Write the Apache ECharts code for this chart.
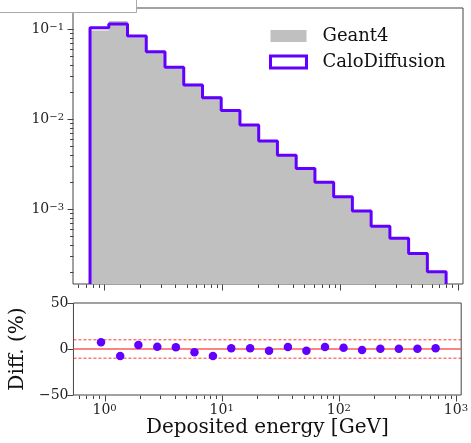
<!DOCTYPE html>
<html><head><meta charset="utf-8">
<script src="https://cdn.jsdelivr.net/npm/echarts@6/dist/echarts.min.js"></script>
<style>html,body{margin:0;padding:0;background:#fff}#c{width:471px;height:443px}</style>
</head><body><div id="c"></div>
<script>
// ---- data ----
const binEdges = [0.756,1.091,1.573,2.270,3.273,4.722,6.811,9.824,14.17,20.44,29.48,42.53,61.35,88.50,127.6,184.1,265.6,383.1,552.6,797.2];
const caloDiffusion = [0.104,0.1146,0.0843,0.0564,0.0379,0.0240,0.0174,0.0125,0.00863,0.00574,0.00398,0.00285,0.00200,0.00138,0.00096,0.00065,0.000476,0.000324,0.000203];
const geant4 = [0.0970,0.1236,0.0812,0.0551,0.0372,0.0248,0.0180,0.0124,0.00860,0.00585,0.00392,0.00280,0.00196,0.00136,0.00097,0.00066,0.000475,0.000323,0.000202];
const diffX = [0.932,1.359,1.944,2.818,4.061,5.853,8.420,12.06,17.49,25.36,36.76,52.88,76.21,109.8,158.0,226.3,325.6,469.4,671.0];
const diffPct = [7.3,-7.6,4.4,2.5,1.9,-3.6,-7.6,0.8,0.8,-1.9,2.2,-1.9,2.2,1.4,-1.1,0.3,0.3,0.3,0.8];
const xTickExps = [0,1,2,3];
const yTickExps = [-3,-2,-1];
const diffTicks = [-50,0,50];
const diffBands = [-10,10];

// ---- axis ranges ----
const X_MIN = 0.542, X_MAX = 1109;
const Y_MIN = 1.48e-4, Y_MAX = 0.1726;

const PURPLE = '#6200ff', GRAY = '#c0c0c0', AX = '#444', FONT = 'DejaVu Serif';

function stepData(vals){
  const n = vals.length;
  const d = [[binEdges[0], Y_MIN]];
  for (let i = 0; i < n; i++) d.push([binEdges[i], vals[i]]);
  d.push([binEdges[n], vals[n-1]]);
  d.push([binEdges[n], Y_MIN]);
  return d;
}
function powLabel(v){
  const e = Math.log10(v);
  const r = Math.round(e);
  if (Math.abs(e - r) > 1e-6) return '';
  return '10{sup|' + (r < 0 ? '\u2212' + (-r) : r) + '}';
}
const rich = {sup:{fontSize:10, fontFamily:FONT, color:'#222', verticalAlign:'top', lineHeight:10}};

// tick marks (drawn through the axes' own scales)
const xMaj = [], xMin = [], yMaj = [], yMin = [];
for (let e = -1; e <= 3; e++) {
  for (let m = 1; m <= 9; m++) {
    const v = m * Math.pow(10, e);
    if (v < X_MIN || v > X_MAX) continue;
    (m === 1 ? xMaj : xMin).push(v);
  }
}
for (let e = -4; e <= -1; e++) {
  for (let m = 1; m <= 9; m++) {
    const v = m * Math.pow(10, e);
    if (v < Y_MIN || v > Y_MAX) continue;
    (m === 1 ? yMaj : yMin).push(v);
  }
}
function tickRender(params, api){
  const p = api.coord([api.value(0), api.value(1)]);
  const len = api.value(2), o = api.value(3);
  const x = Math.round(p[0]) + 0.5, y = Math.round(p[1]) + 0.5;
  return {type:'line', shape: o === 0 ? {x1:x, y1:y, x2:x, y2:y+len} : {x1:x-len, y1:y, x2:x, y2:y},
    style:{stroke:AX, lineWidth:1}};
}
const topTicks = [];
xMaj.forEach(v => topTicks.push([v, Y_MIN, 6, 0]));
xMin.forEach(v => topTicks.push([v, Y_MIN, 3.5, 0]));
yMaj.forEach(v => topTicks.push([X_MIN, v, 6, 1]));
yMin.forEach(v => topTicks.push([X_MIN, v, 3.5, 1]));
const botTicks = [];
xMaj.forEach(v => botTicks.push([v, -50, 6, 0]));
xMin.forEach(v => botTicks.push([v, -50, 3.5, 0]));

const chart = echarts.init(document.getElementById('c'), null, {renderer:'canvas'});
chart.setOption({
  animation:false,
  backgroundColor:'#fff',
  grid:[
    {left:73, top:8, right:8, height:276, show:true, borderColor:AX, borderWidth:1, backgroundColor:'transparent'},
    {left:73, top:303, right:8, height:92, show:true, borderColor:AX, borderWidth:1, backgroundColor:'transparent'}
  ],
  legend:{
    left:264, top:22, orient:'vertical', itemWidth:36, itemHeight:12, itemGap:8,
    textStyle:{fontFamily:FONT, fontSize:18, color:'#111', padding:[0,0,0,11]},
    data:[
      {name:'Geant4', icon:'rect', itemStyle:{color:GRAY, borderWidth:0}},
      {name:'CaloDiffusion', icon:'rect', itemStyle:{color:'#fff', borderColor:PURPLE, borderWidth:3}}
    ],
    selectedMode:false
  },
  xAxis:[
    {type:'log', gridIndex:0, min:X_MIN, max:X_MAX, axisLine:{show:false}, axisTick:{show:false},
     axisLabel:{show:false}, splitLine:{show:false}},
    {type:'log', gridIndex:1, min:X_MIN, max:X_MAX, axisLine:{show:false}, axisTick:{show:false},
     splitLine:{show:false},
     axisLabel:{margin:8, fontFamily:FONT, fontSize:14, color:'#222', formatter:powLabel, rich:rich, showMinLabel:false, showMaxLabel:false},
     name:'Deposited energy [GeV]', nameLocation:'middle', nameGap:23,
     nameTextStyle:{fontFamily:FONT, fontSize:20, color:'#111'}}
  ],
  yAxis:[
    {type:'log', gridIndex:0, min:Y_MIN, max:Y_MAX, axisLine:{show:false}, axisTick:{show:false},
     splitLine:{show:false},
     axisLabel:{margin:9, fontFamily:FONT, fontSize:14, color:'#222', formatter:powLabel, rich:rich, showMinLabel:false, showMaxLabel:false}},
    {type:'value', gridIndex:1, min:diffTicks[0], max:diffTicks[2], interval:50, axisLine:{show:false},
     axisTick:{show:true, length:6, lineStyle:{color:AX}}, splitLine:{show:false},
     axisLabel:{margin:5, fontFamily:FONT, fontSize:14, color:'#222', formatter:v => (v < 0 ? '\u2212' + (-v) : '' + v)},
     name:'Diff. (%)', nameLocation:'middle', nameGap:38,
     nameTextStyle:{fontFamily:FONT, fontSize:20, color:'#111'}}
  ],
  graphic:[{type:'rect', shape:{x:-0.5, y:-0.5, width:137, height:13}, style:{fill:'#fff', stroke:'#aaa', lineWidth:1}, z:100}],
  series:[
    {name:'Geant4', type:'line', xAxisIndex:0, yAxisIndex:0, step:'end', data:stepData(geant4),
     showSymbol:false, symbol:'none', lineStyle:{width:0, color:GRAY}, itemStyle:{color:GRAY},
     areaStyle:{color:GRAY, opacity:1, origin:'start'}, z:1},
    {name:'CaloDiffusion', type:'line', xAxisIndex:0, yAxisIndex:0, step:'end', data:stepData(caloDiffusion),
     showSymbol:false, symbol:'none', lineStyle:{width:3, color:PURPLE}, itemStyle:{color:PURPLE}, z:2},
    {type:'custom', xAxisIndex:0, yAxisIndex:0, renderItem:tickRender, data:topTicks, silent:true, z:5},
    {type:'custom', xAxisIndex:1, yAxisIndex:1, renderItem:tickRender, data:botTicks, silent:true, z:5},
    {type:'line', xAxisIndex:1, yAxisIndex:1, data:[[X_MIN,0],[X_MAX,0]], symbol:'none',
     lineStyle:{color:'#ff5a5a', width:1.3}, z:1, silent:true},
    {type:'line', xAxisIndex:1, yAxisIndex:1, data:[[X_MIN,diffBands[1]],[X_MAX,diffBands[1]]], symbol:'none',
     lineStyle:{color:'#ff2020', width:0.9, type:[3,2]}, z:1, silent:true},
    {type:'line', xAxisIndex:1, yAxisIndex:1, data:[[X_MIN,diffBands[0]],[X_MAX,diffBands[0]]], symbol:'none',
     lineStyle:{color:'#ff2020', width:0.9, type:[3,2]}, z:1, silent:true},
    {type:'scatter', xAxisIndex:1, yAxisIndex:1, data:diffX.map((x,i)=>[x, diffPct[i]]),
     symbol:'circle', symbolSize:8.5, itemStyle:{color:PURPLE, opacity:1}, z:3}
  ]
});
</script></body></html>
